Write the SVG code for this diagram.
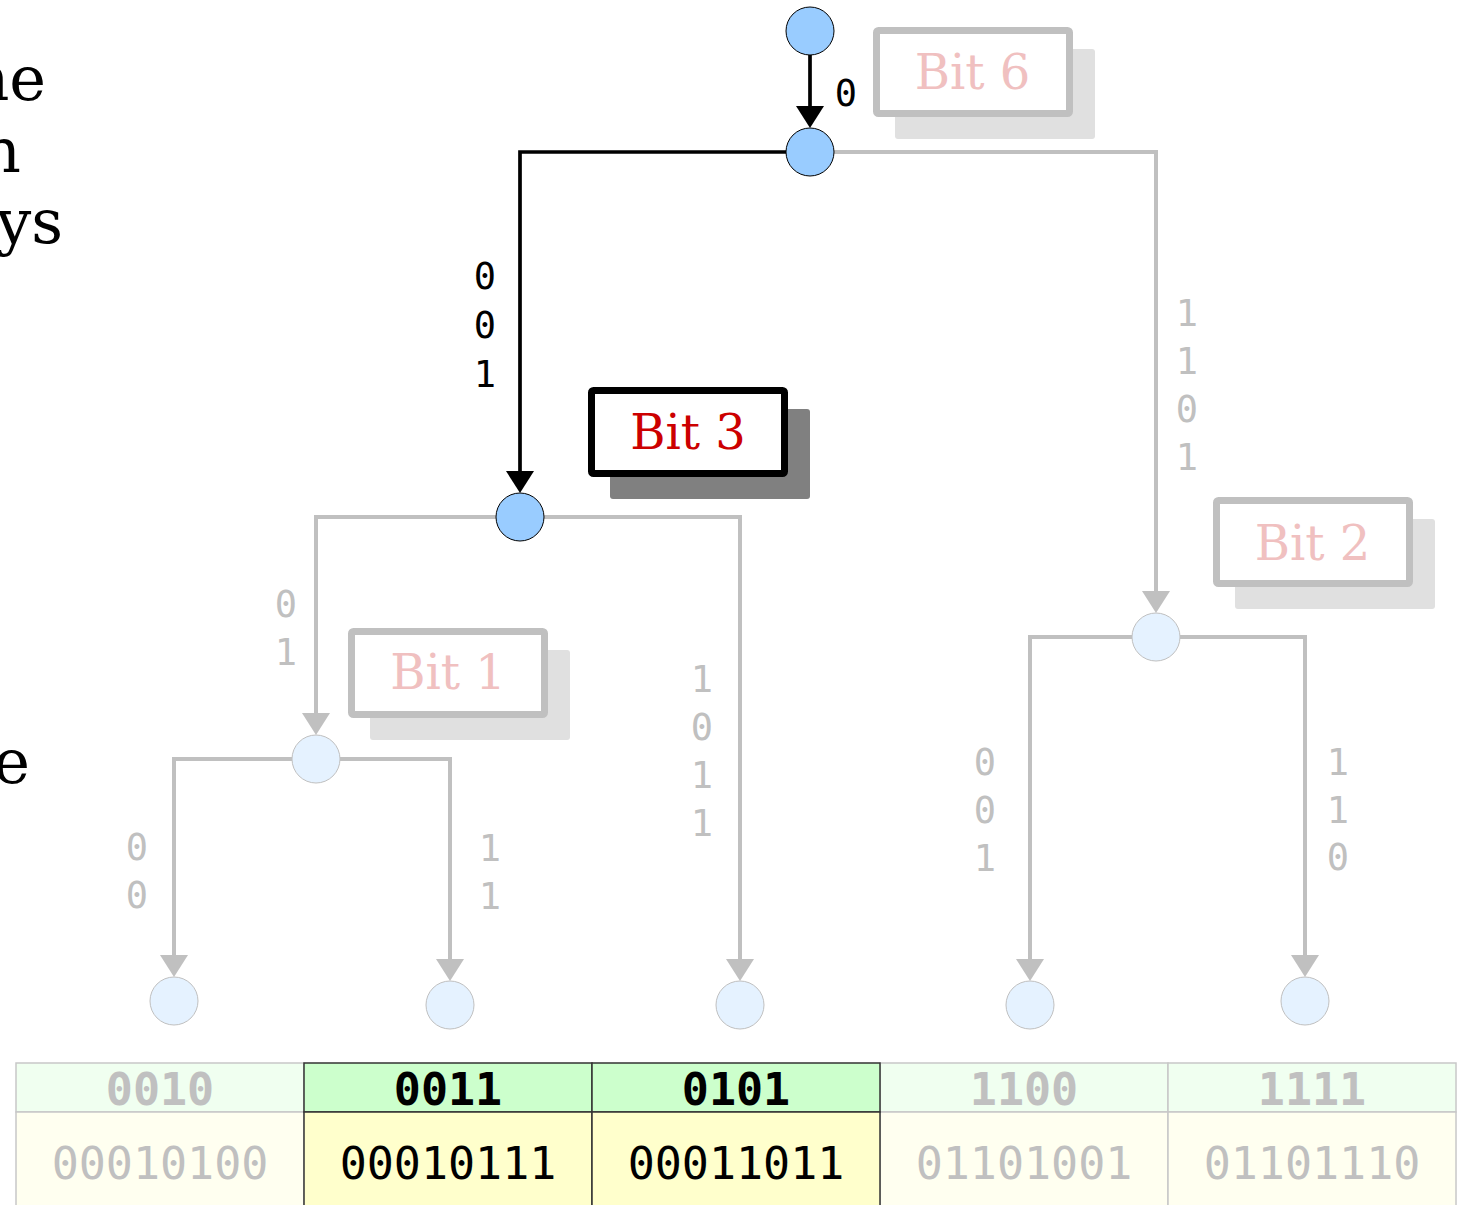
<svg xmlns="http://www.w3.org/2000/svg" width="1461" height="1205" viewBox="0 0 1461 1205">
<defs>
<marker id="ab" markerUnits="userSpaceOnUse" markerWidth="22" markerHeight="28" refX="0" refY="14" orient="auto" viewBox="0 0 22 28"><path d="M0,0 L22,14 L0,28 z" fill="#000"/></marker>
<marker id="ag" markerUnits="userSpaceOnUse" markerWidth="22" markerHeight="28" refX="0" refY="14" orient="auto" viewBox="0 0 22 28"><path d="M0,0 L22,14 L0,28 z" fill="#c0c0c0"/></marker>
</defs>
<style>
.prose{font-family:"DejaVu Serif",serif;font-size:62px;fill:#000}
.lbl{font-family:"DejaVu Sans Mono",monospace;font-size:37px;text-anchor:middle}
.lk{fill:#000}
.lg{fill:#c0c0c0}
.cb{fill:none;stroke:#000;stroke-width:3.7}
.cg{fill:none;stroke:#c0c0c0;stroke-width:4}
.na{fill:#99ccff;stroke:#000;stroke-width:1}
.ni{fill:#e5f2ff;stroke:#c0c0c0;stroke-width:1}
.bt{font-family:"DejaVu Serif",serif;font-size:48px;text-anchor:middle}
.th{font-family:"DejaVu Sans Mono",monospace;font-size:45px;font-weight:bold;text-anchor:middle}
.td{font-family:"DejaVu Sans Mono",monospace;font-size:45px;text-anchor:middle}
</style>
<rect width="1461" height="1205" fill="#fff"/>
<g id="prose">
<text class="prose" x="46" y="100" text-anchor="end">ne</text>
<text class="prose" x="21" y="172" text-anchor="end">n</text>
<text class="prose" x="63" y="243" text-anchor="end">ys</text>
<text class="prose" x="30" y="783" text-anchor="end">e</text>
</g>
<g id="connectors">
<path class="cg" d="M834,152 H1156 V591" marker-end="url(#ag)"/>
<path class="cg" d="M496,517 H316 V713" marker-end="url(#ag)"/>
<path class="cg" d="M544,517 H740 V959" marker-end="url(#ag)"/>
<path class="cg" d="M292,759 H174 V955" marker-end="url(#ag)"/>
<path class="cg" d="M340,759 H450 V959" marker-end="url(#ag)"/>
<path class="cg" d="M1132,637 H1030 V959" marker-end="url(#ag)"/>
<path class="cg" d="M1180,637 H1305 V955" marker-end="url(#ag)"/>
<path class="cb" d="M810,55 V106" marker-end="url(#ab)"/>
<path class="cb" d="M786,152 H520 V471" marker-end="url(#ab)"/>
<text class="lbl lk" x="846" y="106">0</text>
<text class="lbl lk" x="485" y="289">0</text>
<text class="lbl lk" x="485" y="338">0</text>
<text class="lbl lk" x="485" y="387">1</text>
<text class="lbl lg" x="1187" y="326">1</text>
<text class="lbl lg" x="1187" y="374">1</text>
<text class="lbl lg" x="1187" y="422">0</text>
<text class="lbl lg" x="1187" y="470">1</text>
<text class="lbl lg" x="286" y="617">0</text>
<text class="lbl lg" x="286" y="665">1</text>
<text class="lbl lg" x="702" y="692">1</text>
<text class="lbl lg" x="702" y="740">0</text>
<text class="lbl lg" x="702" y="788">1</text>
<text class="lbl lg" x="702" y="836">1</text>
<text class="lbl lg" x="137" y="860">0</text>
<text class="lbl lg" x="137" y="908">0</text>
<text class="lbl lg" x="490" y="861">1</text>
<text class="lbl lg" x="490" y="909">1</text>
<text class="lbl lg" x="985" y="775">0</text>
<text class="lbl lg" x="985" y="823">0</text>
<text class="lbl lg" x="985" y="871">1</text>
<text class="lbl lg" x="1338" y="775">1</text>
<text class="lbl lg" x="1338" y="823">1</text>
<text class="lbl lg" x="1338" y="870">0</text>
</g>
<g id="bit6">
<rect x="895" y="49" width="200" height="90" rx="3" fill="#e0e0e0"/>
<rect x="876.5" y="30.5" width="193" height="83" rx="2" fill="#fff" stroke="#c0c0c0" stroke-width="7"/>
<text class="bt" x="972.5" y="89" fill="#f0c0c0">Bit 6</text>
</g>
<g id="bit3">
<rect x="610" y="409" width="200" height="90" rx="3" fill="#808080"/>
<rect x="591.5" y="390.5" width="193" height="83" rx="2" fill="#fff" stroke="#000" stroke-width="7"/>
<text class="bt" x="688" y="449" fill="#cc0000">Bit 3</text>
</g>
<g id="bit2">
<rect x="1235" y="519" width="200" height="90" rx="3" fill="#e0e0e0"/>
<rect x="1216.5" y="500.5" width="193" height="83" rx="2" fill="#fff" stroke="#c0c0c0" stroke-width="7"/>
<text class="bt" x="1312.5" y="560" fill="#f0c0c0">Bit 2</text>
</g>
<g id="bit1">
<rect x="370" y="650" width="200" height="90" rx="3" fill="#e0e0e0"/>
<rect x="351.5" y="631.5" width="193" height="83" rx="2" fill="#fff" stroke="#c0c0c0" stroke-width="7"/>
<text class="bt" x="448" y="689" fill="#f0c0c0">Bit 1</text>
</g>
<g id="n-root"><circle class="na" cx="810" cy="31" r="24"/></g>
<g id="n-bit6"><circle class="na" cx="810" cy="152" r="24"/></g>
<g id="n-bit3"><circle class="na" cx="520" cy="517" r="24"/></g>
<g id="n-bit2"><circle class="ni" cx="1156" cy="637" r="24"/></g>
<g id="n-bit1"><circle class="ni" cx="316" cy="759" r="24"/></g>
<g id="leaf-0010"><circle class="ni" cx="174" cy="1001" r="24"/></g>
<g id="leaf-0011"><circle class="ni" cx="450" cy="1005" r="24"/></g>
<g id="leaf-0101"><circle class="ni" cx="740" cy="1005" r="24"/></g>
<g id="leaf-1100"><circle class="ni" cx="1030" cy="1005" r="24"/></g>
<g id="leaf-1111"><circle class="ni" cx="1305" cy="1001" r="24"/></g>
<g id="table">
<g stroke="#c8c8c8" stroke-width="1.5">
<rect x="16" y="1063" width="288" height="49" fill="#f0fff0"/>
<rect x="880" y="1063" width="288" height="49" fill="#f0fff0"/>
<rect x="1168" y="1063" width="288" height="49" fill="#f0fff0"/>
<rect x="16" y="1112" width="288" height="100" fill="#fffff0"/>
<rect x="880" y="1112" width="288" height="100" fill="#fffff0"/>
<rect x="1168" y="1112" width="288" height="100" fill="#fffff0"/>
</g>
<g stroke="#333" stroke-width="1.5">
<rect x="304" y="1063" width="288" height="49" fill="#ccffcc"/>
<rect x="592" y="1063" width="288" height="49" fill="#ccffcc"/>
<rect x="304" y="1112" width="288" height="100" fill="#ffffcc"/>
<rect x="592" y="1112" width="288" height="100" fill="#ffffcc"/>
</g>
<text class="th" x="160" y="1105" fill="#c0c0c0">0010</text>
<text class="th" x="448" y="1105" fill="#000">0011</text>
<text class="th" x="736" y="1105" fill="#000">0101</text>
<text class="th" x="1024" y="1105" fill="#c0c0c0">1100</text>
<text class="th" x="1312" y="1105" fill="#c0c0c0">1111</text>
<text class="td" x="160" y="1179" fill="#c0c0c0">00010100</text>
<text class="td" x="448" y="1179" fill="#000">00010111</text>
<text class="td" x="736" y="1179" fill="#000">00011011</text>
<text class="td" x="1024" y="1179" fill="#c0c0c0">01101001</text>
<text class="td" x="1312" y="1179" fill="#c0c0c0">01101110</text>
</g>
</svg>
